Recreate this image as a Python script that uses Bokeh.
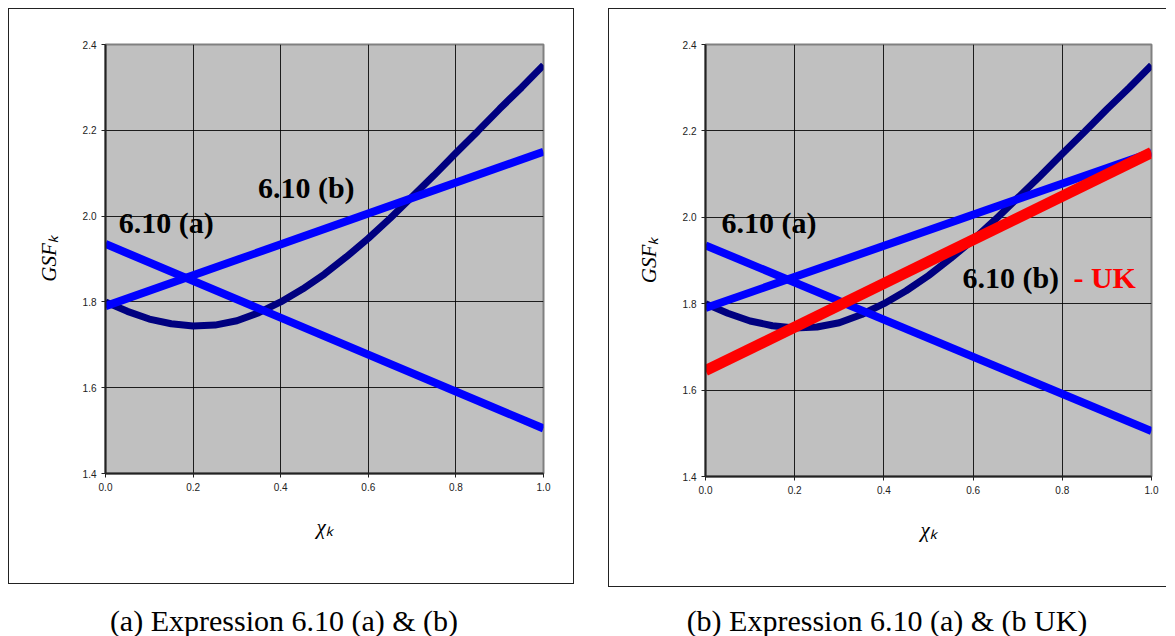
from bokeh.plotting import figure
from bokeh.models import Label, Range1d, FixedTicker, NumeralTickFormatter, Div, Spacer
from bokeh.layouts import row, column
from bokeh.embed import file_html
from bokeh.resources import INLINE

# ---- data ----
chi = [0.0, 0.05, 0.1, 0.15, 0.2, 0.25, 0.3, 0.35, 0.4, 0.45, 0.5,
       0.55, 0.6, 0.65, 0.7, 0.75, 0.8, 0.85, 0.9, 0.95, 1.0]
gsf_combined = [1.800, 1.778, 1.760, 1.749, 1.744, 1.746, 1.756, 1.775, 1.800, 1.830, 1.865,
                1.905, 1.948, 1.995, 2.045, 2.095, 2.147, 2.198, 2.250, 2.300, 2.352]
chi_line = [0.0, 1.0]
gsf_610a = [1.935, 1.505]
gsf_610b = [1.790, 2.150]
gsf_610b_uk = [1.645, 2.150]
x_ticks = [0.0, 0.2, 0.4, 0.6, 0.8, 1.0]
y_ticks = [1.4, 1.6, 1.8, 2.0, 2.2, 2.4]
x_title = "χₖ"
y_title = "GSFₖ"
captions = ["(a) Expression 6.10 (a) &amp; (b)", "(b) Expression 6.10 (a) &amp; (b UK)"]

SERIF = "Liberation Serif"
SANS = "Liberation Sans"


def make_panel(width, height, mbl, mbr, mbt, mbb, uk, border):
    p = figure(width=width, height=height, x_range=Range1d(0, 1), y_range=Range1d(1.4, 2.4),
               output_backend="svg", toolbar_location=None,
               min_border_left=mbl, min_border_right=mbr, min_border_top=mbt, min_border_bottom=mbb)
    p.background_fill_color = "#C0C0C0"
    p.border_fill_color = "white"
    p.outline_line_color = "#808080"
    p.outline_line_width = 2
    p.styles = border
    for ax, ticks in ((p.xaxis, x_ticks), (p.yaxis, y_ticks)):
        ax.ticker = FixedTicker(ticks=ticks)
        ax.formatter = NumeralTickFormatter(format="0.0")
        ax.major_label_text_font = SANS
        ax.major_label_text_font_size = "10px"
        ax.major_label_text_color = "#222"
        ax.major_tick_out = 4
        ax.major_tick_in = 0
        ax.minor_tick_line_color = None
        ax.axis_line_width = 2
        ax.axis_line_color = "#222"
        ax.major_tick_line_color = "#222"
        ax.major_label_standoff = 5
        ax.axis_label_text_font = SERIF
        ax.axis_label_text_font_size = "21px"
        ax.axis_label_text_font_style = "italic"
        ax.axis_label_text_color = "black"
    p.xaxis.axis_label = x_title
    p.yaxis.axis_label = y_title
    p.xaxis.axis_label_standoff = 21
    p.yaxis.axis_label_standoff = 19
    for g in (p.xgrid, p.ygrid):
        g.grid_line_color = "black"
        g.grid_line_width = 1
        g.grid_line_alpha = 0.85

    p.line(chi, gsf_combined, line_color="#000080", line_width=7)
    p.line(chi_line, gsf_610a, line_color="#0000FF", line_width=8)
    p.line(chi_line, gsf_610b, line_color="#0000FF", line_width=8)
    if uk:
        p.line(chi_line, gsf_610b_uk, line_color="#FF0000", line_width=11)

    def lab(x, y, text, color="black"):
        p.add_layout(Label(x=x, y=y, text=text, text_font=SERIF, text_font_size="30px",
                           text_font_style="bold", text_color=color,
                           text_align="left", text_baseline="middle"))

    if not uk:
        lab(0.030, 1.985, "6.10 (a)")
        lab(0.348, 2.066, "6.10 (b)")
    else:
        lab(0.036, 1.988, "6.10 (a)")
        lab(0.576, 1.861, "6.10 (b)")
        lab(0.825, 1.861, "- UK", color="#FF0000")
    return p


p1 = make_panel(566, 576, 96, 32, 35, 111, False, {"border": "1px solid #222"})
p2 = make_panel(558, 579, 96, 16, 35, 112, True,
                {"border-left": "1px solid #222", "border-top": "1px solid #222",
                 "border-bottom": "1px solid #222"})


def cap(text, width):
    return Div(text=text, width=width, height=45,
               styles={"text-align": "center", "font-family": SERIF, "font-size": "30px",
                       "padding-top": "11px", "color": "black", "line-height": "1.2",
                       "white-space": "nowrap"})


layout = column(Spacer(height=8),
                row(Spacer(width=8), p1, Spacer(width=34), p2),
                row(Spacer(width=4), cap(captions[0], 550), Spacer(width=40), cap(captions[1], 556)))

open("out.html", "w").write(file_html(layout, INLINE))
